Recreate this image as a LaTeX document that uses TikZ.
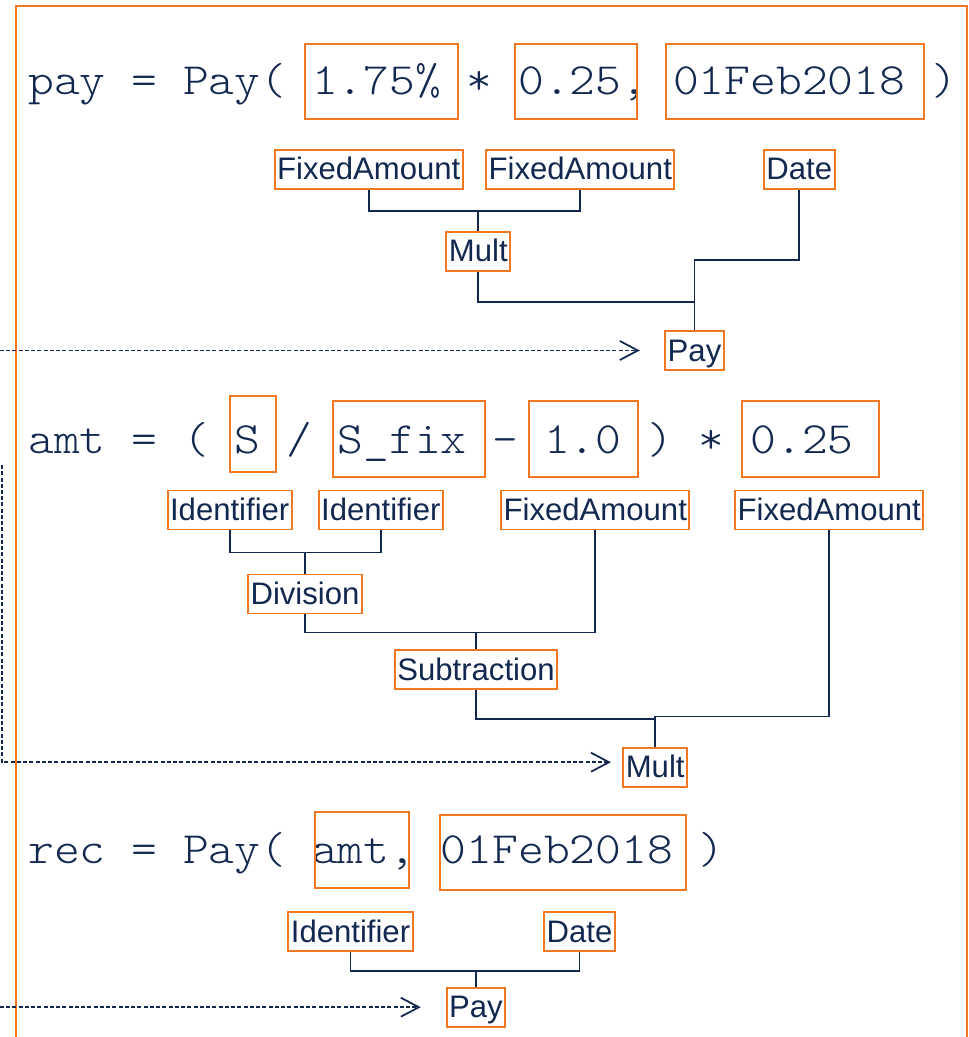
\documentclass[tikz,border=0pt]{standalone}
\usepackage{fontspec}
\setsansfont{Liberation Sans}
\newfontfamily\codefont[FakeStretch=1.1]{lmmonolt10-regular.otf}
\usetikzlibrary{arrows.meta}
\definecolor{navy}{RGB}{18,40,80}
\definecolor{orng}{RGB}{240,120,32}
\begin{document}
\begin{tikzpicture}[x=0.02cm, y=-0.02cm,
    code/.style={anchor=base west, inner sep=0pt, text=navy,
      font=\fontsize{25.42pt}{31pt}\selectfont\codefont},
    tok/.style={draw=orng, line width=1.1pt, inner sep=0pt},
    ast/.style={draw=orng, line width=1.1pt, inner xsep=0.05cm, inner ysep=0pt,
      text height=0.6cm, text depth=0.18cm, text=navy,
      font=\fontsize{17.7pt}{20pt}\selectfont\sffamily},
    wire/.style={draw=navy, line width=1.1pt},
    flow/.style={draw=navy, line width=1pt, dash pattern=on 0.08cm off 0.045cm,
      -{Straight Barb[length=0.36cm, width=0.38cm, line width=1pt]}}]
  \useasboundingbox (0,0) rectangle (969,1037);
  \draw[orng, line width=1.1pt](16,1037) -- (16,5.7) -- (966.7,5.7) -- (966.7,1037);

  % pay = Pay(...)
  \node[code] (line1) at(28, 95){pay = Pay( 1.75\% * 0.25, 01Feb2018 )};
    \node[tok, minimum width=3.06cm, minimum height=1.5cm] (rate) at(381.5, 81.5){};
    \node[tok, minimum width=2.44cm, minimum height=1.5cm] (frac) at(576, 81.5){};
    \node[tok, minimum width=5.16cm, minimum height=1.5cm] (paydate) at(795, 81.5){};

    \node[ast] (fa1) at(368.7, 169.4){FixedAmount};
    \node[ast] (fa2) at(580.3, 169.4){FixedAmount};
    \node[ast] (date1) at(799.2, 169.4){Date};
    \node[ast] (mult1) at(478.3, 251.2){Mult};
    \node[ast] (pay1) at(694.5, 350.5){Pay};

      \draw[wire](fa1.south) -- ++(0,21) coordinate (bar1) -| (fa2.south);
      \draw[wire](mult1.north) -- (mult1.north |- bar1);
      \draw[wire](date1.south) -- ++(0,70) -| (pay1.north);
      \draw[wire](mult1.south) -- ++(0,30) -| (pay1.north);

    \coordinate (in1) at(0, 350.5);
    \draw[flow, shorten >=0.49cm](in1) -- (pay1.west);

  % amt = (S / S_fix - 1.0) * 0.25
  \node[code] (line2) at(28, 453){amt = ( S / S\_fix - 1.0 ) * 0.25};
    \node[tok, minimum width=0.92cm, minimum height=1.52cm] (sym) at(253, 434){};
    \node[tok, minimum width=3.04cm, minimum height=1.52cm] (sfix) at(409, 439){};
    \node[tok, minimum width=2.18cm, minimum height=1.52cm] (one) at(583.5, 439){};
    \node[tok, minimum width=2.74cm, minimum height=1.52cm] (quarter) at(810.5, 439){};

    \node[ast] (id1) at(229.7, 510){Identifier};
    \node[ast] (id2) at(380.8, 510){Identifier};
    \node[ast] (fa3) at(595.3, 510){FixedAmount};
    \node[ast] (fa4) at(829.2, 510){FixedAmount};
    \node[ast] (division) at(305, 594){Division};
    \node[ast] (subtraction) at(476, 669.7){Subtraction};
    \node[ast] (mult2) at(655.2, 767.2){Mult};

      \draw[wire](id1.south) -- ++(0,22) coordinate (bar2) -| (id2.south);
      \draw[wire](division.north) -- (division.north |- bar2);
      \draw[wire](division.south) -- ++(0,18) coordinate (bar3) -| (fa3.south);
      \draw[wire](subtraction.north) -- (subtraction.north |- bar3);
      \draw[wire](subtraction.south) -- ++(0,29) -| (mult2.north);
      \draw[wire](fa4.south) -- ++(0,186) -| (mult2.north);

    \coordinate (in2) at(1.7, 465);
    \draw[flow, shorten >=0.23cm](in2) |- ([yshift=0.1cm]mult2.west);

  % rec = Pay(amt, ...)
  \node[code] (line3) at(28, 863){rec = Pay( amt, 01Feb2018 )};
    \node[tok, minimum width=1.88cm, minimum height=1.52cm] (amtbox) at(362, 850){};
    \node[tok, minimum width=4.92cm, minimum height=1.5cm] (recdate) at(563, 852.5){};

    \node[ast] (id3) at(350.5, 931.5){Identifier};
    \node[ast] (date3) at(579.5, 931.5){Date};
    \node[ast] (pay3) at(476, 1007.2){Pay};

      \draw[wire](id3.south) -- ++(0,19) coordinate (bar4) -| (date3.south);
      \draw[wire](pay3.north) -- (pay3.north |- bar4);

    \coordinate (in3) at(0, 1007.2);
    \draw[flow, shorten >=0.5cm](in3) -- (pay3.west);
\end{tikzpicture}
\end{document}
